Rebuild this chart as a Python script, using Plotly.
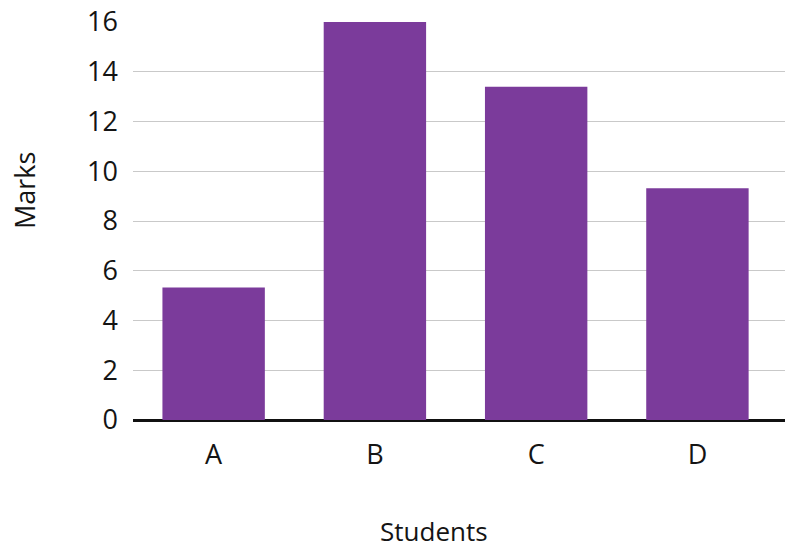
import plotly.graph_objects as go

students = ["A", "B", "C", "D"]
marks = [5.33, 16, 13.4, 9.32]
y_ticks = [0, 2, 4, 6, 8, 10, 12, 14, 16]

fig = go.Figure(go.Bar(x=students, y=marks, marker=dict(color="#7b3b9b", line=dict(width=0)), width=0.635))

font = "Open Sans, Noto Sans, sans-serif"
L, R, T, B = 133, 0, 22, 130
plot_w = 785 - L - R
plot_h = 550 - T - B
fig.update_layout(
    width=785, height=550,
    margin=dict(l=L, r=R, t=T, b=B, autoexpand=False),
    plot_bgcolor="white", paper_bgcolor="white",
    font=dict(family=font, color="#141414", size=27),
    showlegend=False,
)
fig.update_xaxes(
    range=[-0.5, 3.543],
    showgrid=False, showline=False, ticks="", automargin=False,
    tickfont=dict(size=27), ticklabelstandoff=16,
)
fig.update_yaxes(
    range=[0, 16], tickvals=y_ticks, showgrid=True, gridcolor="#c9c9c9", gridwidth=1,
    zeroline=True, zerolinecolor="#111111", zerolinewidth=3, automargin=False,
    tickfont=dict(size=27), ticklabelstandoff=14, ticks="",
)
# axis titles positioned as in the reference
fig.add_annotation(text="Students", xref="paper", yref="paper",
                   x=(434 - L) / plot_w, y=(T + plot_h - 531) / plot_h,
                   showarrow=False, font=dict(size=26), xanchor="center", yanchor="middle")
fig.add_annotation(text="Marks", xref="paper", yref="paper",
                   x=(24 - L) / plot_w, y=(T + plot_h - 191) / plot_h,
                   showarrow=False, textangle=-90, font=dict(size=27),
                   xanchor="center", yanchor="middle")
fig.write_html("out.html")
